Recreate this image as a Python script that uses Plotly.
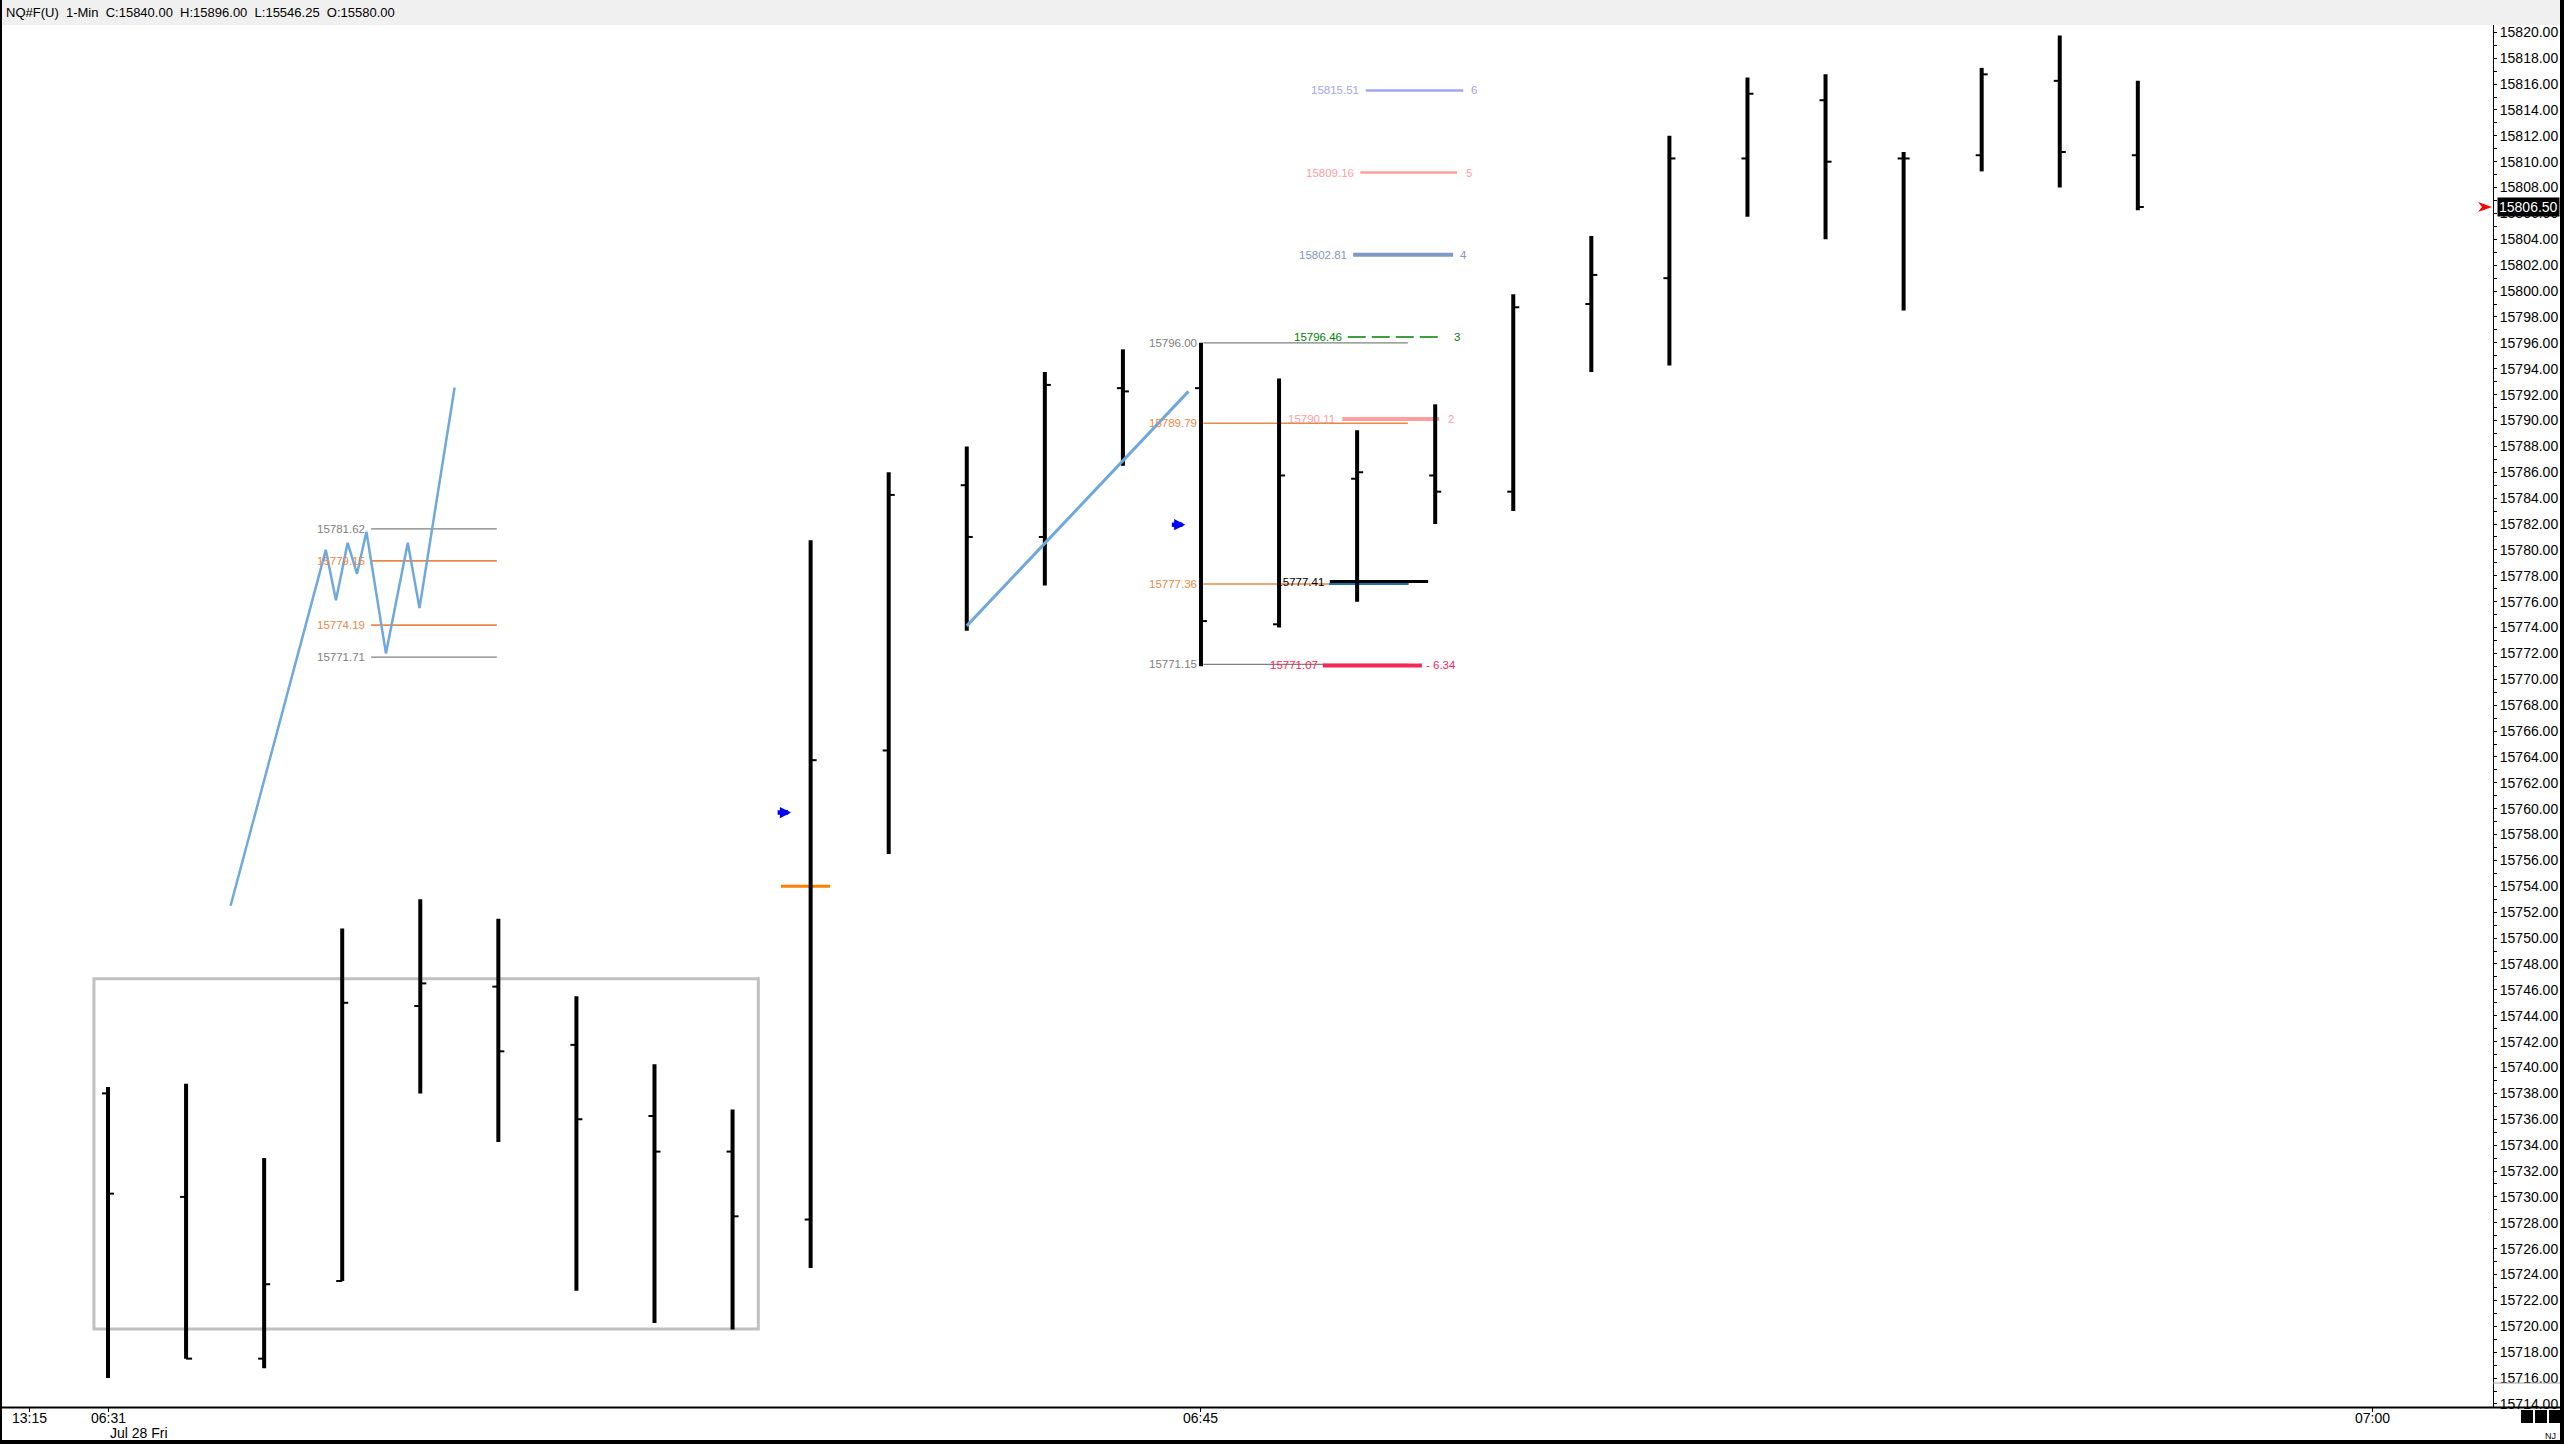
import plotly.graph_objects as go

W, H = 2564, 1444
FONT = "Liberation Sans, Arial, sans-serif"
LBL = "Liberation Sans, Arial, sans-serif"

# ---- data -------------------------------------------------------------
# x = minute slot on the chart (0 = 13:15 prior session, 1 = 06:31 ... 30 = 07:00)
bar_x = list(range(1, 28))
opens = [15738.00, 15730.00, 15717.50, 15723.50, 15744.75, 15746.25, 15741.75, 15736.25, 15733.50,
         15728.25, 15764.50, 15785.00, 15781.00, 15792.50, 15792.50, 15774.25, 15785.50, 15785.75,
         15784.50, 15799.00, 15801.00, 15810.25, 15814.75, 15810.25, 15810.50, 15816.25, 15810.50]
highs = [15738.50, 15738.75, 15733.00, 15750.75, 15753.00, 15751.50, 15745.50, 15740.25, 15736.75,
         15780.75, 15786.00, 15788.00, 15793.75, 15795.50, 15796.00, 15793.25, 15789.25, 15791.25,
         15799.75, 15804.25, 15812.00, 15816.50, 15816.75, 15810.75, 15817.25, 15819.75, 15816.25]
lows = [15716.00, 15717.50, 15716.75, 15723.50, 15738.00, 15734.25, 15722.75, 15720.25, 15719.75,
        15724.50, 15756.50, 15773.75, 15777.25, 15786.50, 15771.00, 15774.00, 15776.00, 15782.00,
        15783.00, 15793.75, 15794.25, 15805.75, 15804.00, 15798.50, 15809.25, 15808.00, 15806.25]
closes = [15730.25, 15717.50, 15723.25, 15745.00, 15746.50, 15741.25, 15736.00, 15733.50, 15728.50,
          15763.75, 15784.25, 15781.00, 15792.75, 15792.25, 15774.50, 15785.75, 15786.00, 15784.50,
          15798.75, 15801.25, 15810.25, 15815.25, 15810.00, 15810.25, 15816.75, 15810.75, 15806.50]
last_price = 15806.50

time_ticks = [0, 1, 15, 30]
time_text = ["13:15", "06:31", "06:45", "07:00"]
date_text = "Jul 28 Fri"
header_text = "NQ#F(U)\u00a0\u00a01-Min\u00a0\u00a0C:15840.00\u00a0\u00a0H:15896.00\u00a0\u00a0L:15546.25\u00a0\u00a0O:15580.00"

# drawing tools on the chart
box_x = [0.82, 9.33]
box_y = [15719.80, 15746.85]

zig_x = [2.57, 3.79, 3.92, 4.07, 4.19, 4.31, 4.56, 4.84, 4.99, 5.44]
zig_y = [15752.50, 15780.00, 15776.10, 15780.55, 15778.15, 15781.40, 15772.00, 15780.55, 15775.50, 15792.55]

fib_a_levels = [15781.62, 15779.15, 15774.19, 15771.71]
fib_a_x = [4.37, 5.98]
fib_a_lbl_x = 4.30

fib_b_levels = [15796.00, 15789.79, 15777.36, 15771.15]
fib_b_x = [15.03, 17.65]
fib_b_lbl_x = 14.96

trend_x = [12.00, 14.84]
trend_y = [15774.13, 15792.25]

mark_x = [9.62, 10.25]
mark_y = 15754.00

arrow_x = [9.75, 14.80]
arrow_y = [15759.70, 15781.95]

lvl_prices = [15815.51, 15809.16, 15802.81, 15796.46, 15790.11, 15771.07]
lvl_tags = ["6", "5", "4", "3", "2", "- 6.34"]
lvl_x0 = [17.11, 17.04, 16.95, 16.88, 16.81, 16.56]
lvl_x1 = [18.36, 18.28, 18.23, 18.04, 18.05, 17.83]
lvl_lbl_x = [17.04, 16.97, 16.88, 16.82, 16.73, 16.51]
lvl_tag_x = [18.45, 18.38, 18.31, 18.23, 18.15, 17.87]
lvl_colors = ["#a2a4f6", "#ff9e9e", "#7f98c4", "#008000", "#ff9e9e", "#f5285a"]
lvl_widths = [2.5, 2.5, 4, 1.5, 4, 4]
lvl_dash = ["solid", "solid", "solid", "18px,6px", "solid", "solid"]

mid_price = 15777.41
mid_lbl_x = 16.58
mid_black_x = [16.65, 17.91]
mid_black_y = 15777.55
mid_blue_x = [16.64, 17.66]
mid_blue_y = 15777.36

# ---- layout geometry (pixels) ------------------------------------------
PLOT_RIGHT = 2493
PLOT_TOP = 26
PLOT_BOTTOM = 1407
SLOT1_PX = 108
SLOT_PX = 78.07
PX_PER_PT = 12.94
Y15820_PX = 32.3

x_lo = 1 + (0 - SLOT1_PX) / SLOT_PX
x_hi = 1 + (PLOT_RIGHT - SLOT1_PX) / SLOT_PX
y_hi = 15820 + (Y15820_PX - PLOT_TOP) / PX_PER_PT
y_lo = 15820 - (PLOT_BOTTOM - Y15820_PX) / PX_PER_PT


def px(x):
    return x / W


def py(y):
    return 1 - y / H


GRAY = "#808080"
ORANGE = "#e8894a"
ZIG = "#6fa8dc"
TICK = 0.077

fig = go.Figure()


def seg(xs, ys, color, width, dash="solid"):
    fig.add_trace(go.Scatter(x=xs, y=ys, mode="lines",
                             line=dict(color=color, width=width, dash=dash),
                             hoverinfo="skip", showlegend=False))


def label(x, y, text, color, anchor="right"):
    fig.add_annotation(x=x, y=y, text=text, showarrow=False, xanchor=anchor,
                       yanchor="middle", borderpad=0,
                       font=dict(family=LBL, size=11.5, color=color))


# fib on the zigzag
for i, lvl in enumerate(fib_a_levels):
    col = GRAY if i in (0, 3) else ORANGE
    seg(fib_a_x, [lvl, lvl], col, 1.2 if col == GRAY else 1.6)
    label(fib_a_lbl_x, lvl, f"{lvl:.2f}", col)

# fib on the 06:45 bar
for i, lvl in enumerate(fib_b_levels):
    col = GRAY if i in (0, 3) else ORANGE
    seg(fib_b_x, [lvl, lvl], col, 1.2 if col == GRAY else 1.6)
    label(fib_b_lbl_x, lvl, f"{lvl:.2f}", col)

# numbered target levels
for p, tag, x0, x1, lx, tx, col, w, d in zip(lvl_prices, lvl_tags, lvl_x0, lvl_x1, lvl_lbl_x,
                                            lvl_tag_x, lvl_colors, lvl_widths, lvl_dash):
    seg([x0, x1], [p, p], col, w, d)
    label(lx, p, f"{p:.2f}", col)
    label(tx, p, tag, col, anchor="left")

seg(mid_blue_x, [mid_blue_y, mid_blue_y], "#1f6fb0", 2)
seg(mid_black_x, [mid_black_y, mid_black_y], "black", 3)
fig.add_trace(go.Scatter(x=[mid_lbl_x], y=[mid_price], mode="text", text=[f"{mid_price:.2f}"],
                         textposition="middle left", hoverinfo="skip", showlegend=False,
                         textfont=dict(family=LBL, size=11.5, color="black")))

seg(mark_x, [mark_y, mark_y], "#ff8000", 3)

# OHLC bars
v_x, v_y, o_x, o_y, c_x, c_y = [], [], [], [], [], []
for x, o, h, l, c in zip(bar_x, opens, highs, lows, closes):
    v_x += [x, x, None]
    v_y += [l, h, None]
    o_x += [x - TICK, x, None]
    o_y += [o, o, None]
    c_x += [x, x + TICK, None]
    c_y += [c, c, None]
seg(v_x, v_y, "black", 4)
seg(o_x, o_y, "black", 2)
seg(c_x, c_y, "black", 2)

# trend lines on top
seg(trend_x, trend_y, ZIG, 3)
seg(zig_x, zig_y, ZIG, 2.5)

for ax_, ay_ in zip(arrow_x, arrow_y):
    fig.add_annotation(x=ax_, y=ay_, text="", showarrow=True, ax=-15, ay=0,
                       arrowhead=2, arrowsize=0.5, arrowwidth=4.5, arrowcolor="#0000ff", standoff=0)

shapes = [
    dict(type="rect", xref="x", yref="y", x0=box_x[0], x1=box_x[1], y0=box_y[0], y1=box_y[1],
         line=dict(color="#c0c0c0", width=3), layer="below"),
    # header band
    dict(type="rect", xref="paper", yref="paper", x0=0, x1=1, y0=py(25), y1=1,
         fillcolor="#f0f0f0", line=dict(width=0), layer="below"),
    # axis lines
    dict(type="line", xref="paper", yref="paper", x0=0, x1=px(2560), y0=py(PLOT_BOTTOM + 0.5),
         y1=py(PLOT_BOTTOM + 0.5), line=dict(color="black", width=2)),
    dict(type="line", xref="paper", yref="paper", x0=px(PLOT_RIGHT + 0.5), x1=px(PLOT_RIGHT + 0.5),
         y0=py(25), y1=py(PLOT_BOTTOM), line=dict(color="black", width=1)),
    dict(type="line", xref="paper", yref="paper", x0=px(PLOT_RIGHT), x1=px(2560),
         y0=py(1383), y1=py(1383), line=dict(color="#a0a0a0", width=1)),
    # frame
    dict(type="rect", xref="paper", yref="paper", x0=0, x1=px(2), y0=0, y1=1,
         fillcolor="black", line=dict(width=0)),
    dict(type="rect", xref="paper", yref="paper", x0=px(2560), x1=1, y0=0, y1=1,
         fillcolor="black", line=dict(width=0)),
    dict(type="rect", xref="paper", yref="paper", x0=0, x1=1, y0=0, y1=py(1440),
         fillcolor="black", line=dict(width=0)),
    # current price pointer
    dict(type="path", xref="paper", yref="paper",
         path=f"M {px(2478)},{py(202)} L {px(2492)},{py(207)} L {px(2478)},{py(212)} L {px(2482)},{py(207)} Z",
         fillcolor="#ff0000", line=dict(width=0)),
]
for sx in (2521, 2535, 2549):
    shapes.append(dict(type="rect", xref="paper", yref="paper", x0=px(sx), x1=px(sx + 12),
                       y0=py(1423), y1=py(1410), fillcolor="black", line=dict(width=0)))

annotations = [
    dict(x=px(4), y=py(12.5), xref="paper", yref="paper", text=header_text, showarrow=False,
         xanchor="left", yanchor="middle", font=dict(family=FONT, size=13, color="black")),
    dict(x=px(108), y=py(1433), xref="paper", yref="paper", text=date_text, showarrow=False,
         xanchor="left", yanchor="middle", font=dict(family=FONT, size=14, color="black")),
    dict(x=px(2497), y=py(207), xref="paper", yref="paper", text=f"{last_price:.2f}", showarrow=False,
         xanchor="left", yanchor="middle", bgcolor="black", borderpad=1,
         font=dict(family=FONT, size=14, color="white")),
    dict(x=px(2558), y=py(1436), xref="paper", yref="paper", text="NJ", showarrow=False,
         xanchor="right", yanchor="middle", font=dict(family=FONT, size=9, color="black")),
]
# time labels drawn just under the axis line
for tv, tt in zip(time_ticks, time_text):
    annotations.append(dict(x=tv, y=py(1418), xref="x", yref="paper", text=tt, showarrow=False,
                            xanchor="center", yanchor="middle",
                            font=dict(family=FONT, size=14, color="black")))

fig.update_layout(
    width=W, height=H, autosize=False,
    margin=dict(l=0, r=0, t=0, b=0, pad=0),
    paper_bgcolor="white", plot_bgcolor="white",
    showlegend=False, template="none",
    shapes=shapes,
    xaxis=dict(domain=[0, px(PLOT_RIGHT)], range=[x_lo, x_hi], tickvals=time_ticks,
               showticklabels=False, ticks="outside", ticklen=4, tickcolor="black",
               showgrid=False, zeroline=False, showline=False, automargin=False),
    yaxis=dict(domain=[py(PLOT_BOTTOM), py(PLOT_TOP)], range=[y_lo, y_hi], side="right",
               tick0=15714, dtick=2, tickformat=".2f", ticks="outside", ticklen=3,
               tickcolor="black", showgrid=False, zeroline=False, showline=False,
               automargin=False, tickfont=dict(family=FONT, size=14, color="black"),
               minor=dict(dtick=1, ticks="outside", ticklen=3, tickcolor="black", showgrid=False)),
)
for a in annotations:
    fig.add_annotation(**a)

fig.write_html("out.html", config={"displayModeBar": False},
               post_script="document.body.style.margin='0';document.body.style.overflow='hidden';")
